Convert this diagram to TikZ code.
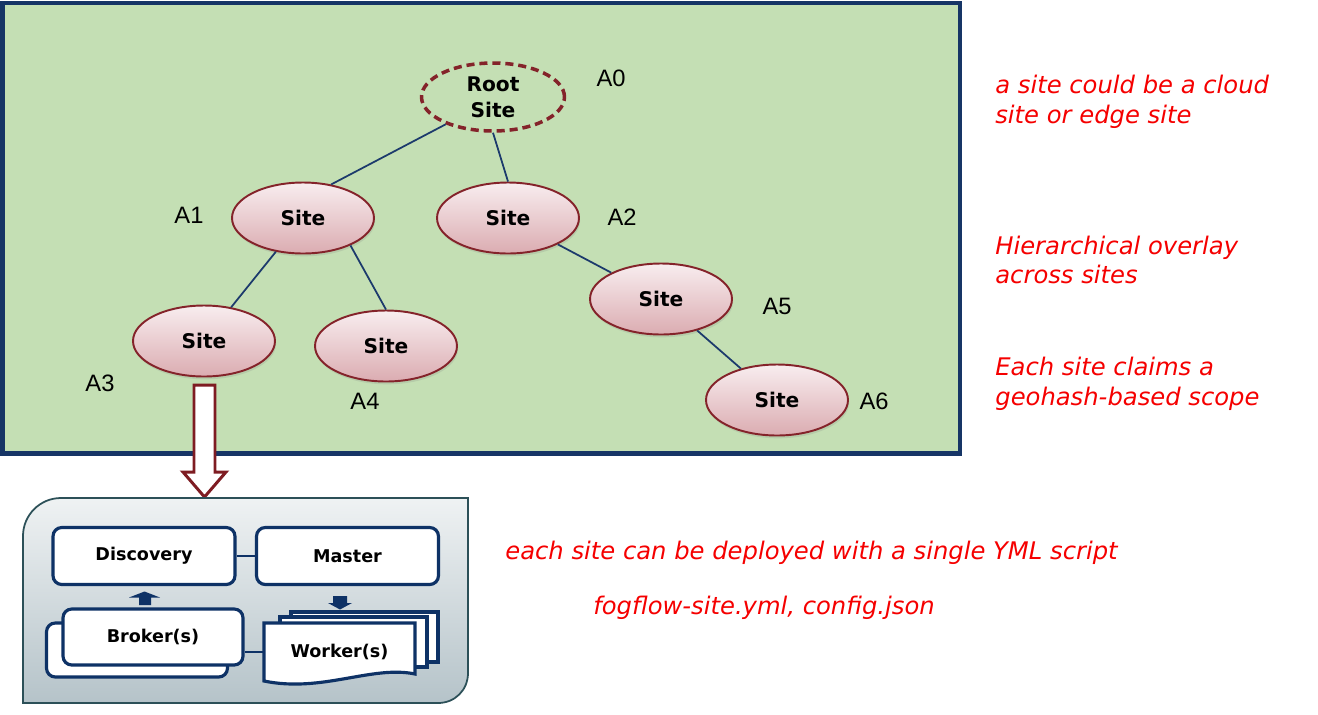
\documentclass[tikz,border=0pt]{standalone}
\usepackage{fontspec}
\setmainfont{DejaVu Sans}
\newfontfamily\labelfont{Liberation Sans}
\usetikzlibrary{shapes.geometric,shadows}

\definecolor{bggreen}{HTML}{C4DFB4}
\definecolor{navy}{HTML}{163566}
\definecolor{sitered}{HTML}{84232A}
\definecolor{sitetop}{HTML}{F8EDEF}
\definecolor{sitebot}{HTML}{DBACB1}
\definecolor{treeline}{HTML}{1C3A6C}
\definecolor{boxblue}{HTML}{0E3266}
\definecolor{paneltop}{HTML}{EFF2F3}
\definecolor{panelbot}{HTML}{B5C3C9}
\definecolor{panelline}{HTML}{2C5058}
\definecolor{arrowred}{HTML}{7E1C22}
\definecolor{notered}{HTML}{F50000}

\begin{document}
\begin{tikzpicture}[x=0.02cm, y=-0.02cm,
	site/.style={ellipse, draw=sitered, line width=1.1pt, top color=sitetop, bottom color=sitebot, inner sep=0pt, minimum width=2.84cm, minimum height=1.42cm, font=\fontsize{11.5}{13}\selectfont\bfseries, drop shadow={opacity=0.2, shadow xshift=0.6pt, shadow yshift=-1.6pt}},
	sitename/.style={font=\labelfont\fontsize{13.5}{15}\selectfont, inner sep=0pt},
	tree/.style={draw=treeline, line width=1pt},
	part/.style={draw=boxblue, line width=1.8pt, fill=white, rounded corners=5pt, inner sep=0pt, minimum width=3.64cm, minimum height=1.14cm, font=\fontsize{10}{12}\selectfont\bfseries},
	sheet/.style={draw=boxblue, line width=1.8pt, fill=white},
	note/.style={text=notered, font=\fontsize{13.8}{17}\selectfont\itshape, align=left, anchor=west, inner sep=0pt}]
	\useasboundingbox (0,0) rectangle (1318,714);

	\draw[draw=navy, line width=2.3pt, fill=bggreen] (2.5,3) rectangle (960,453.5);

	\node[ellipse, draw=sitered, line width=2pt, dash pattern=on 4.6pt off 2.8pt, inner sep=0pt, minimum width=2.86cm, minimum height=1.36cm, align=center, font=\fontsize{11.5}{14.7}\selectfont\bfseries] (root) at (493,97) {Root\\Site};
	\node[site] (a1) at (303,218) {Site};
	\node[site] (a2) at (508,218) {Site};
	\node[site] (a3) at (204,341) {Site};
	\node[site] (a4) at (386,346) {Site};
	\node[site] (a5) at (661,299) {Site};
	\node[site] (a6) at (777,400) {Site};

	\draw[tree] (root.-150) -- (a1.50);
	\draw[tree] (root.south) -- (a2.north);
	\draw[tree] (a1) -- (a3);
	\draw[tree] (a1.-30) -- (a4.north);
	\draw[tree] (a2) -- (a5);
	\draw[tree] (a5) -- (a6);

	\node[sitename] (n0) at (611,78) {A0};
	\node[sitename] (n1) at (189,215) {A1};
	\node[sitename] (n2) at (622,217) {A2};
	\node[sitename] (n3) at (100,383) {A3};
	\node[sitename] (n4) at (365,401) {A4};
	\node[sitename] (n5) at (777,306) {A5};
	\node[sitename] (n6) at (874,401) {A6};

	\draw[draw=arrowred, line width=1.7pt, fill=white, line join=miter] (194,385) -- (215,385) -- (215,472) -- (226,472) -- (204.5,497) -- (183,472) -- (194,472) -- cycle;

	\shadedraw[top color=paneltop, bottom color=panelbot, draw=panelline, line width=1pt] (23,703) -- (23,536) .. controls (23,515) and (40,498) .. (61,498) -- (468,498) -- (468,673) .. controls (468,690) and (455,703) .. (438,703) -- cycle;

	\node[part] (disc) at (144,556) {Discovery};
	\node[part] (master) at (347.5,556) {Master};
	\draw[draw=boxblue, line width=1pt] (disc) -- (master);

	\node[part, minimum width=3.62cm, minimum height=1.08cm] (brokerback) at (137,650) {};
	\node[part, minimum width=3.6cm, minimum height=1.12cm] (broker) at (153,637) {Broker(s)};

	\draw[sheet] (291,612) rectangle (438,662);
	\draw[sheet] (280,617) rectangle (427,667);
	\draw[sheet] (264,623) -- (415,623) -- (415,674) .. controls (372,665) and (322,693) .. (264,681) -- cycle;
	\node[inner sep=0pt, minimum width=3.02cm, minimum height=1.14cm, font=\fontsize{10}{12}\selectfont\bfseries] (worker) at (339.5,652) {Worker(s)};
	\draw[draw=boxblue, line width=1pt] (worker.west) -- (worker.west -| broker.east);

	\fill[boxblue] (139,605) -- (139,597.5) -- (129,597.5) -- (144.5,591.5) -- (160,597.5) -- (151,597.5) -- (151,605) -- cycle;
	\fill[boxblue] (333,596) -- (347,596) -- (347,603) -- (352,603) -- (340,609.5) -- (328,603) -- (333,603) -- cycle;

	\node[note] (cloud) at (995,102) {a site could be a cloud\\site or edge site};
	\node[note] (overlay) at (995,260) {Hierarchical overlay\\across sites};
	\node[note] (scope) at (995,384) {Each site claims a\\geohash-based scope};
	\node[note] (deploy) at (505,553) {each site can be deployed with a single YML script};
	\node[note] (files) at (593,608) {fogflow-site.yml, config.json};
\end{tikzpicture}
\end{document}
